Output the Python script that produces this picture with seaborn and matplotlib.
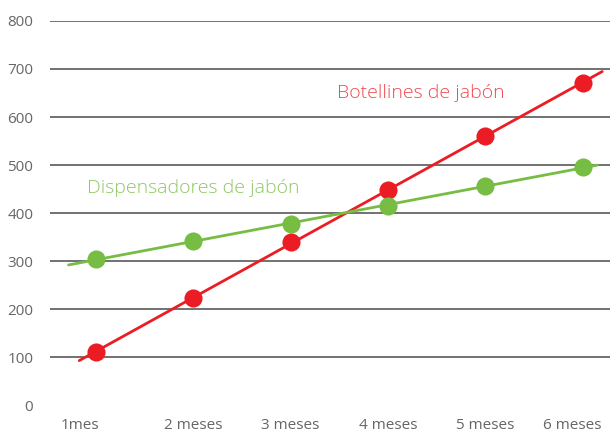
import numpy as np
import pandas as pd
import matplotlib
matplotlib.use("Agg")
import matplotlib.pyplot as plt
import matplotlib.transforms as mtransforms
import seaborn as sns

meses = ["1mes", "2 meses", "3 meses", "4 meses", "5 meses", "6 meses"]
botellines = [110, 223, 340, 448, 560, 671]
dispensadores = [304, 342, 377, 415, 456, 496]

rojo = "#ec1c24"
verde = "#77bd43"

sns.set_style("white")
plt.rcParams["font.family"] = ["Open Sans", "DejaVu Sans"]

fig = plt.figure(figsize=(6.1, 4.37), dpi=100)
ax = fig.add_axes([0.082, 0.073, 0.918, 0.879])

x = np.arange(len(meses))
df = pd.DataFrame({"x": x, "Botellines": botellines, "Dispensadores": dispensadores})

# trend lines (linear fit), drawn a bit past the first and last month
for col, color, x0, x1 in [("Botellines", rojo, -0.17, 5.2),
                           ("Dispensadores", verde, -0.28, 5.15)]:
    m, b = np.polyfit(df["x"], df[col], 1)
    xs = np.array([x0, x1])
    sns.lineplot(x=xs, y=m * xs + b, color=color, lw=2, ax=ax)
    sns.scatterplot(data=df, x="x", y=col, color=color, s=170, linewidth=0, ax=ax, zorder=3)

ax.set_xlim(-0.47, 5.28)
ax.set_ylim(0, 800)
ax.set_yticks(range(0, 801, 100))
ax.set_xticks(x)
ax.set_xticklabels(meses)
ax.yaxis.grid(True, color="#4a4a4a", lw=1.1)
ax.yaxis.get_gridlines()[0].set_visible(False)
ax.set_axisbelow(True)
ax.tick_params(axis="both", length=0, labelsize=11, colors="#666666")
ax.tick_params(axis="x", pad=9)
ax.tick_params(axis="y", pad=12)
ax.set_xlabel("")
ax.set_ylabel("")
sns.despine(ax=ax, left=True, bottom=True)

# nudge first and last month labels like in the original
labels = ax.get_xticklabels()
for lab, dx in [(labels[0], -16), (labels[-1], -10)]:
    lab.set_transform(lab.get_transform() + mtransforms.ScaledTranslation(dx / 100, 0, fig.dpi_scale_trans))

ax.text(3.34, 650, "Botellines de jabón", color="#ef4a52", fontsize=14,
        ha="center", va="center", fontweight="light")
ax.text(1.0, 452, "Dispensadores de jabón", color="#8dc863", fontsize=14,
        ha="center", va="center", fontweight="light")

fig.savefig("out.png", dpi=100)
